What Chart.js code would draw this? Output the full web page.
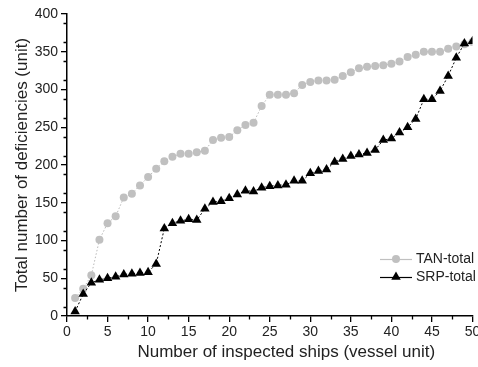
<!DOCTYPE html>
<html><head><meta charset="utf-8">
<script src="https://cdn.jsdelivr.net/npm/chart.js@4.4.0/dist/chart.umd.min.js"></script>
<style>html,body{margin:0;padding:0;background:#fff}#wrap{width:478px;height:367px;position:relative}</style>
</head><body><div id="wrap"><canvas id="c" width="478" height="367"></canvas></div>
<script>
const ships = [1,2,3,4,5,6,7,8,9,10,11,12,13,14,15,16,17,18,19,20,21,22,23,24,25,26,27,28,29,30,31,32,33,34,35,36,37,38,39,40,41,42,43,44,45,46,47,48,49,50];
const tanTotal = [24,36,54,101,123,132,157,162,173,184,195,205,211,215,215,217,219,233,236,237,246,253,256,278,293,293,293,295,306,310,312,312,313,318,323,328,330,331,332,334,337,343,346,350,350,350,354,357,360,363];
const srpTotal = [6,29,44,48,50,52,55,56,57,58,69,116,123,126,128,127,142,151,152,156,161,166,165,170,172,173,174,179,179,189,192,194,204,208,212,214,216,220,233,235,243,250,261,287,287,298,318,342,361,364];
const seriesNames = ['TAN-total','SRP-total'];
const xTitle = '\u00A0\u00A0\u00A0\u00A0\u00A0\u00A0\u00A0Number of inspected ships (vessel unit)';
const yTitle = 'Total number of deficiencies (unit)';

const FONT = 'Arial, "Liberation Sans", sans-serif';
const TXT = '#222';

const minorTicks = {
  id: 'minorTicks',
  afterDraw(chart) {
    const ctx = chart.ctx, xs = chart.scales.x, ys = chart.scales.y;
    ctx.save();
    ctx.strokeStyle = '#000'; ctx.lineWidth = 1.3;
    ctx.beginPath();
    for (let v = 12.5; v < 400; v += 25) {
      const p = Math.round(ys.getPixelForValue(v)) + 0.5;
      ctx.moveTo(ys.right - 3.5, p); ctx.lineTo(ys.right, p);
    }
    for (let v = 2.5; v < 50; v += 5) {
      const p = Math.round(xs.getPixelForValue(v)) + 0.5;
      ctx.moveTo(p, xs.top); ctx.lineTo(p, xs.top + 3.5);
    }
    ctx.stroke();
    ctx.restore();
  }
};

const legendPlugin = {
  id: 'customLegend',
  afterDraw(chart) {
    const ctx = chart.ctx;
    const items = [
      {name: seriesNames[0], ds: chart.data.datasets[0], y: 259},
      {name: seriesNames[1], ds: chart.data.datasets[1], y: 277}
    ];
    ctx.save();
    items.forEach(it => {
      ctx.strokeStyle = it.ds.legendLine; ctx.lineWidth = 1.2; ctx.setLineDash([]);
      ctx.beginPath(); ctx.moveTo(380, it.y + 0.5); ctx.lineTo(412, it.y + 0.5); ctx.stroke();
      ctx.fillStyle = it.ds.pointBackgroundColor;
      ctx.beginPath();
      if (it.ds.pointStyle === 'circle') { ctx.arc(396, it.y, it.ds.pointRadius, 0, Math.PI * 2); }
      else {
        const r = it.ds.pointRadius;
        ctx.moveTo(396, it.y - r);
        ctx.lineTo(396 + Math.sin(2*Math.PI/3) * r, it.y - Math.cos(2*Math.PI/3) * r);
        ctx.lineTo(396 + Math.sin(4*Math.PI/3) * r, it.y - Math.cos(4*Math.PI/3) * r);
        ctx.closePath();
      }
      ctx.fill();
      ctx.fillStyle = TXT; ctx.font = '14px ' + FONT; ctx.textBaseline = 'middle'; ctx.textAlign = 'left';
      ctx.fillText(it.name, 416, it.y);
    });
    ctx.restore();
  }
};

new Chart(document.getElementById('c'), {
  type: 'line',
  data: {
    datasets: [
      {
        label: seriesNames[0],
        data: ships.map((s, i) => ({x: s, y: tanTotal[i]})),
        borderColor: '#b8b8b8', borderWidth: 1, borderDash: [1.5, 2],
        pointStyle: 'circle', pointRadius: 4, pointBackgroundColor: '#c0c0c0', pointBorderColor: '#c0c0c0', pointBorderWidth: 0,
        legendLine: '#c0c0c0', tension: 0, order: 2
      },
      {
        label: seriesNames[1],
        data: ships.map((s, i) => ({x: s, y: srpTotal[i]})),
        borderColor: '#000', borderWidth: 1, borderDash: [2, 2],
        pointStyle: 'triangle', pointRadius: 5.5, pointBackgroundColor: '#000', pointBorderColor: '#000', pointBorderWidth: 0,
        legendLine: '#000', tension: 0, order: 1
      }
    ]
  },
  options: {
    responsive: false, animation: false, devicePixelRatio: 1,
    layout: {padding: {top: 14, right: 5, left: 0, bottom: 0}},
    plugins: {legend: {display: false}, tooltip: {enabled: false}},
    scales: {
      x: {
        type: 'linear', min: 0, max: 50,
        border: {display: true, color: '#000', width: 1.5},
        grid: {display: true, drawOnChartArea: false, drawTicks: true, tickLength: 6, color: '#000', lineWidth: 1.3},
        ticks: {stepSize: 5, color: TXT, font: {family: FONT, size: 14}, padding: 2, maxRotation: 0},
        title: {display: true, text: xTitle, color: TXT, font: {family: FONT, size: 17}, padding: {top: 0, bottom: 4}},
        afterFit(s) { s.height = 51; s.paddingRight = 0; }
      },
      y: {
        type: 'linear', min: 0, max: 400,
        border: {display: true, color: '#000', width: 1.5},
        grid: {display: true, drawOnChartArea: false, drawTicks: true, tickLength: 6, color: '#000', lineWidth: 1.3},
        ticks: {stepSize: 25, color: TXT, font: {family: FONT, size: 14}, padding: 3},
        title: {display: true, text: yTitle, color: TXT, font: {family: FONT, size: 17}, padding: {top: 12, bottom: 0}},
        afterFit(s) { s.width = 67; s.paddingTop = 0; }
      }
    }
  },
  plugins: [minorTicks, legendPlugin]
});
</script>
</body></html>
